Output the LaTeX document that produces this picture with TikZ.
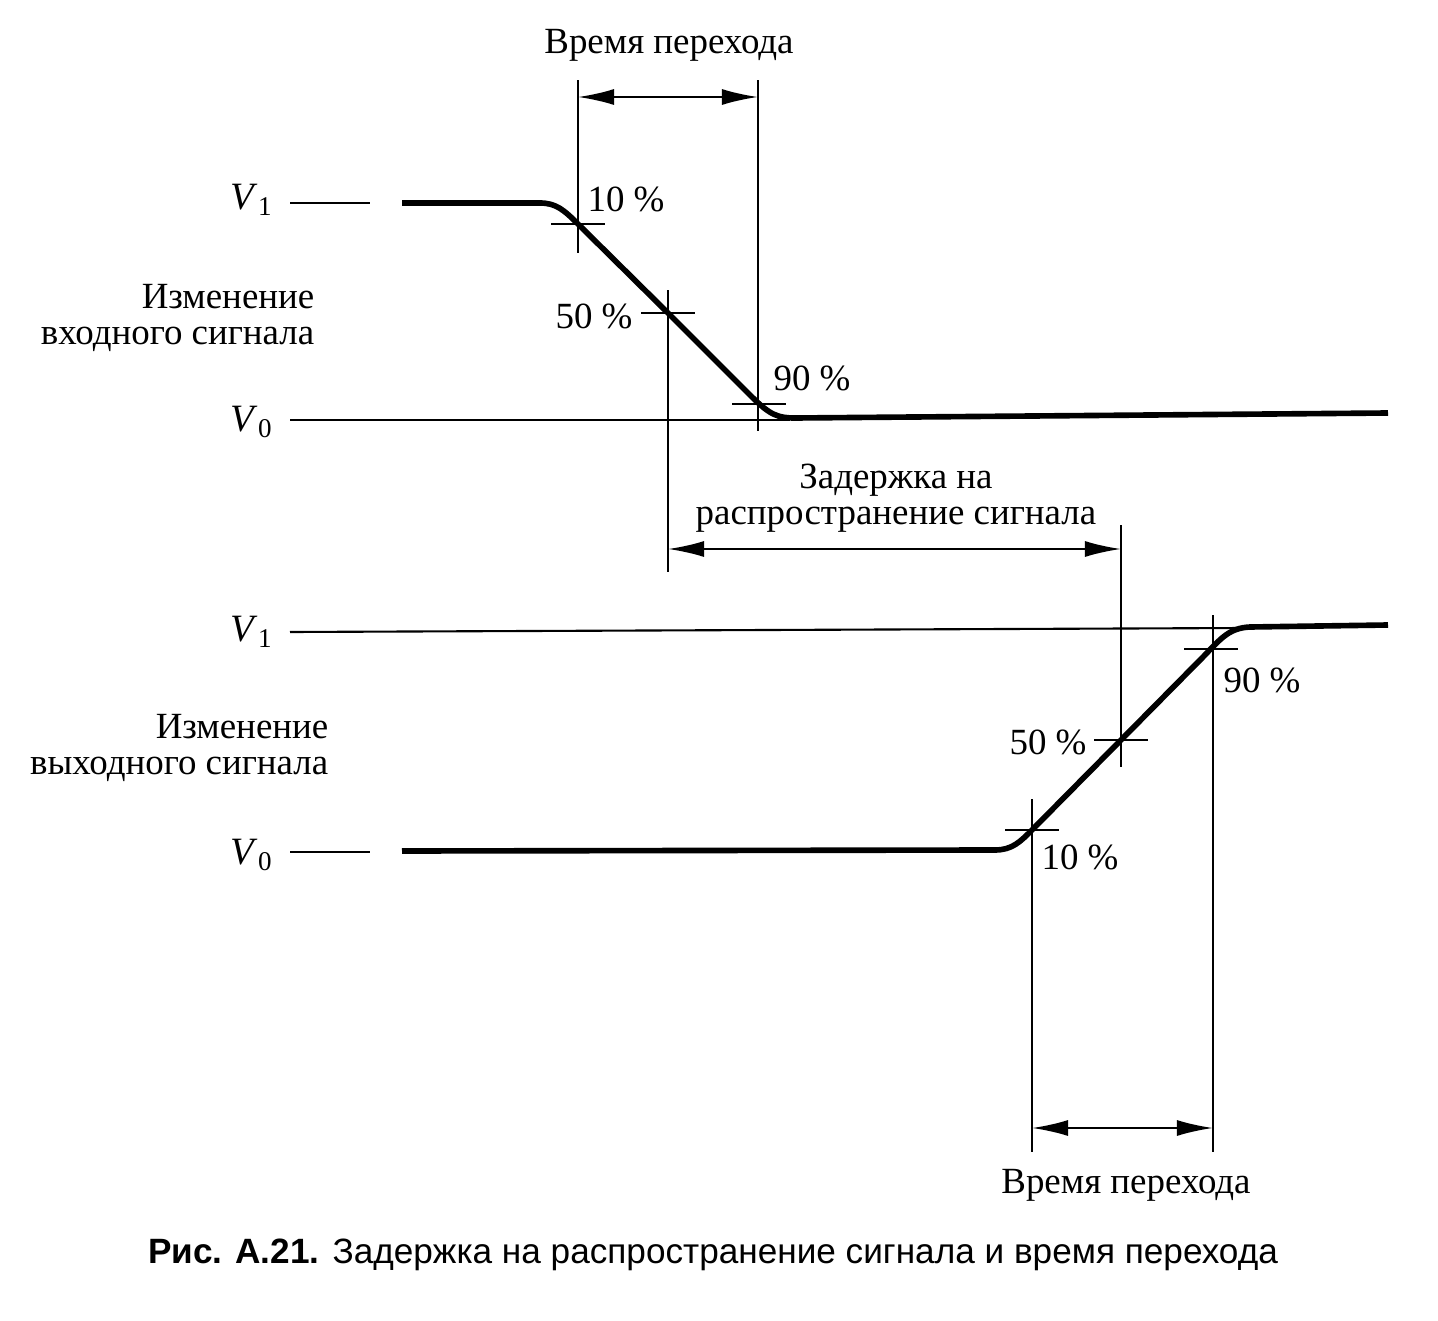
\documentclass[tikz,border=0pt]{standalone}
\usepackage{fontspec}
\setmainfont{Liberation Serif}
\newfontfamily\capfont{Liberation Sans}
\usetikzlibrary{arrows.meta}
\tikzset{
  thinline/.style={line width=0.6pt},
  signal/.style={line width=1.6pt, line join=round},
  dimarrow/.style={line width=0.6pt, {Latex[length=3.6mm,width=1.6mm]}-{Latex[length=3.6mm,width=1.6mm]}},
  lbl/.style={inner sep=0pt, font=\fontsize{10.5}{10.2}\selectfont},
  vlbl/.style={inner sep=0pt, font=\fontsize{11}{12}\selectfont},
}
\begin{document}
\begin{tikzpicture}[x=0.01cm, y=-0.01cm]
	\useasboundingbox (0,0) rectangle (1438,1321);
	\coordinate (p10) at (578,224);
	\coordinate (p50) at (668,313);
	\coordinate (p90) at (759,404);
	\coordinate (q10) at (1032,830);
	\coordinate (q50) at (1121,740);
	\coordinate (q90) at (1211,649);
	% input signal
	\node[vlbl] (v1in) at (252,200) {\textit{V}\textsubscript{1}};
	\node[vlbl] (v0in) at (252,422) {\textit{V}\textsubscript{0}};
	\draw[thinline] (290,203) -- (370,203);
	\draw[thinline] (290,420) -- (790,420);
	\draw[signal] (402,203) -- (540,203) .. controls (556,203) and (564,210) .. (p10) -- (p50) -- (752,397) .. controls (770,415) and (778,418) .. (795,418) -- (1388,413);
	\node[lbl, align=right, anchor=east] (inlbl) at (315,318) {Изменение\\входного сигнала};
	% output signal
	\node[vlbl] (v1out) at (252,632) {\textit{V}\textsubscript{1}};
	\node[vlbl] (v0out) at (252,855) {\textit{V}\textsubscript{0}};
	\draw[thinline] (290,632) -- (1245,628);
	\draw[thinline] (290,852) -- (370,852);
	\draw[signal] (402,851) -- (995,850) .. controls (1012,850) and (1020,842) .. (q10) -- (q50) -- (1204,656) .. controls (1222,637) and (1230,628) .. (1250,627) -- (1388,625);
	\node[lbl, align=right, anchor=east] (outlbl) at (329,748) {Изменение\\выходного сигнала};
	% markers
	\foreach \p in {p10,p50,p90,q10,q50,q90}
		\draw[thinline] (\p) ++(-27,0) -- ++(54,0);
	\draw[thinline] (578,80) -- (578,253);
	\draw[thinline] (668,290) -- (668,572);
	\draw[thinline] (758,80) -- (758,431);
	\draw[thinline] (1121,525) -- (1121,767);
	\draw[thinline] (1032,799) -- (1032,1152);
	\draw[thinline] (1213,615) -- (1213,1152);
	\node[lbl] (in10) at (626,199) {10 \%};
	\node[lbl] (in50) at (594,316) {50 \%};
	\node[lbl] (in90) at (812,378) {90 \%};
	\node[lbl] (out90) at (1262,680) {90 \%};
	\node[lbl] (out50) at (1048,742) {50 \%};
	\node[lbl] (out10) at (1080,857) {10 \%};
	% times
	\coordinate (ta) at (578,97);
	\coordinate (tb) at (758,97);
	\coordinate (da) at (668,549);
	\coordinate (db) at (1121,549);
	\coordinate (ua) at (1032,1128);
	\coordinate (ub) at (1213,1128);
	\draw[dimarrow] (ta) -- (tb);
	\draw[dimarrow] (da) -- (db);
	\draw[dimarrow] (ua) -- (ub);
	\node[lbl] (ttop) at (669,45) {Время перехода};
	\node[lbl, align=center] (delay) at (896,498) {Задержка на\\распространение сигнала};
	\node[lbl] (tbot) at (1126,1185) {Время перехода};
	\node[inner sep=0pt, font=\capfont\fontsize{10}{12}\selectfont] (cap) at (713,1255) {\textbf{Рис. А.21.} Задержка на распространение сигнала и время перехода};
\end{tikzpicture}
\end{document}
